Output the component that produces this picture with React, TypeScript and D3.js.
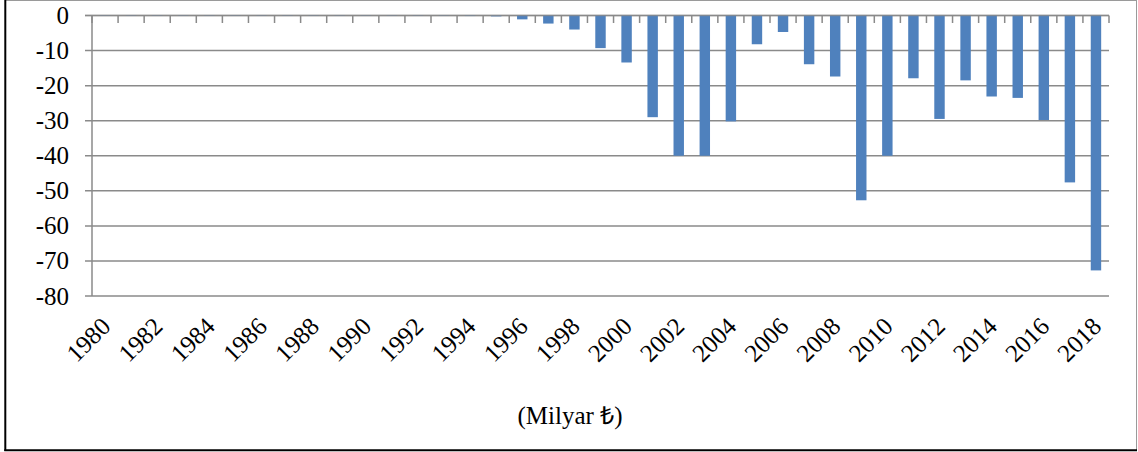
import React from "react";
import * as d3 from "d3";

const years: string[] = [
  "1980","1981","1982","1983","1984","1985","1986","1987","1988","1989",
  "1990","1991","1992","1993","1994","1995","1996","1997","1998","1999",
  "2000","2001","2002","2003","2004","2005","2006","2007","2008","2009",
  "2010","2011","2012","2013","2014","2015","2016","2017","2018",
];

const balance: number[] = [
  -0.1, -0.1, -0.1, -0.1, -0.1, -0.1, -0.1, -0.1, -0.1, -0.1,
  -0.1, -0.1, -0.1, -0.1, -0.15, -0.25, -1.1, -2.3, -4.0, -9.3,
  -13.4, -29.0, -40.0, -40.0, -30.2, -8.2, -4.7, -13.9, -17.4, -52.7,
  -40.0, -17.9, -29.5, -18.5, -23.1, -23.5, -29.8, -47.6, -72.7,
];

const yTicks: number[] = [0, -10, -20, -30, -40, -50, -60, -70, -80];
const xLabelYears: string[] = years.filter((_, i) => i % 2 === 0);
const unitLabel = "(Milyar ₺)";

const W = 1138;
const H = 452;
const plotLeft = 92;
const plotRight = 1109;
const plotTop = 15.5;
const plotBottom = 296;

const FONT = "'Liberation Serif', 'Times New Roman', serif";
const GRID = "#8a8a8a";

export default function App() {
  const x = d3
    .scaleBand<string>()
    .domain(years)
    .range([plotLeft, plotRight])
    .paddingInner(0.6)
    .paddingOuter(0.3);
  const y = d3.scaleLinear().domain([-80, 0]).range([plotBottom, plotTop]);
  const catStart = (i: number) => plotLeft + i * ((plotRight - plotLeft) / years.length);

  return (
    <svg
      width={W}
      height={H}
      style={{ position: "absolute", left: 0, top: 0, background: "#fff" }}
    >
      {/* frame */}
      <line x1={5} y1={0.5} x2={1137} y2={0.5} stroke="#9a9a9a" strokeWidth={1} />
      <line x1={1136.5} y1={0} x2={1136.5} y2={451} stroke="#9a9a9a" strokeWidth={1} />
      <line x1={5.3} y1={0} x2={5.3} y2={451} stroke="#000" strokeWidth={2} />
      <line x1={4.3} y1={450.2} x2={1137} y2={450.2} stroke="#000" strokeWidth={2} />

      {/* gridlines */}
      {yTicks.map((t) => (
        <line
          key={"g" + t}
          x1={85}
          x2={plotRight}
          y1={y(t)}
          y2={y(t)}
          stroke={GRID}
          strokeWidth={1.5}
        />
      ))}
      {/* y axis line */}
      <line x1={plotLeft} x2={plotLeft} y1={plotTop} y2={plotBottom} stroke={GRID} strokeWidth={1.5} />

      {/* bars */}
      {years.map((yr, i) => {
        const v = balance[i];
        const y0 = y(0);
        const y1 = y(v);
        return (
          <rect
            key={yr}
            x={x(yr)}
            y={y0}
            width={x.bandwidth()}
            height={Math.max(0, y1 - y0)}
            fill="#4F81BD"
          />
        );
      })}

      {/* zero axis redraw */}
      <line x1={85} x2={plotRight} y1={y(0)} y2={y(0)} stroke={GRID} strokeWidth={1.5} opacity={0.6} />

      {/* x ticks at category boundaries */}
      {d3.range(years.length + 1).map((i) => (
        <line
          key={"t" + i}
          x1={catStart(i)}
          x2={catStart(i)}
          y1={y(0)}
          y2={y(0) + 7.5}
          stroke={GRID}
          strokeWidth={1.5}
        />
      ))}

      {/* y labels */}
      {yTicks.map((t) => (
        <text
          key={"yl" + t}
          x={69}
          y={y(t)}
          dy="0.34em"
          textAnchor="end"
          fontFamily={FONT}
          fontSize={25}
          fill="#000"
        >
          {t}
        </text>
      ))}

      {/* x labels */}
      {xLabelYears.map((yr) => {
        const cx = (x(yr) as number) + x.bandwidth() / 2 + 7;
        const cy = 328;
        return (
          <text
            key={"xl" + yr}
            x={cx}
            y={cy}
            textAnchor="end"
            transform={`rotate(-45 ${cx} ${cy})`}
            fontFamily={FONT}
            fontSize={25}
            fill="#000"
          >
            {yr}
          </text>
        );
      })}

      {/* unit label */}
      <text
        x={570}
        y={424}
        textAnchor="middle"
        fontFamily={FONT}
        fontSize={25}
        fill="#000"
      >
        {unitLabel}
      </text>
    </svg>
  );
}
